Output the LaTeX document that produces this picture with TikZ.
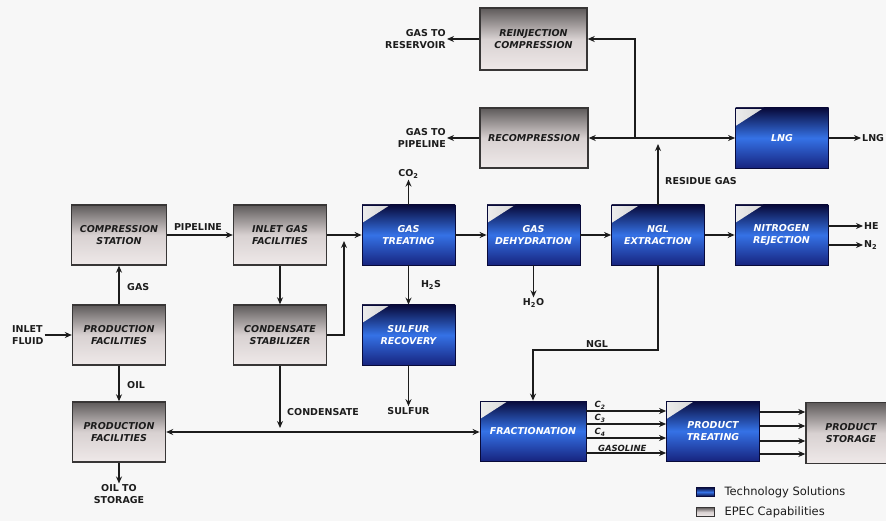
\documentclass[tikz,border=0pt]{standalone}
\usepackage{fontspec}
\setmainfont{DejaVu Sans}
\usetikzlibrary{arrows.meta}
\definecolor{navy}{HTML}{080A3A}
\definecolor{royal}{HTML}{3572E6}
\definecolor{deepblue}{HTML}{17247F}
\definecolor{steel}{HTML}{5E5A5A}
\definecolor{mist}{HTML}{D8D1D1}
\definecolor{blush}{HTML}{EFE9E9}
\definecolor{edge}{HTML}{383636}
\definecolor{ink}{HTML}{1C1C1C}
\definecolor{paper}{HTML}{F7F7F7}

\begin{document}
\begin{tikzpicture}[x=1pt,y=-1pt,
  epec/.style={draw=edge, line width=1.4pt, top color=steel, bottom color=blush, middle color=mist,
               minimum width=93pt, minimum height=60pt, inner sep=0pt, align=center,
               text=ink, font=\fontsize{9.5}{12}\selectfont\bfseries\itshape},
  tech/.style={draw=navy, line width=0.8pt, top color=navy, bottom color=deepblue, middle color=royal,
               minimum width=93pt, minimum height=60pt, inner sep=0pt, align=center,
               text=white, font=\fontsize{9.5}{12}\selectfont\bfseries\itshape,
               path picture={\shade[left color=white!85!gray, right color=gray!70]
                 (path picture bounding box.north west) -- ++(28pt,0pt) -- ++(-28pt,-18pt) -- cycle;}},
  techsw/.style={draw=navy, top color=navy, bottom color=navy, middle color=royal,
                 minimum width=18pt, minimum height=9pt, inner sep=0pt},
  epecsw/.style={draw=edge, line width=1pt, top color=steel, bottom color=blush, middle color=mist,
                 minimum width=18pt, minimum height=9pt, inner sep=0pt},
  lab/.style={font=\fontsize{9.5}{11.5}\selectfont\bfseries, text=ink, inner sep=1pt},
  flow/.style={line width=1.6pt, draw=ink, -{Stealth[length=7pt,width=6pt]}},
  both/.style={flow, {Stealth[length=7pt,width=6pt]}-{Stealth[length=7pt,width=6pt]}}
]
  \fill[paper] (0,0) rectangle (886,521);
  \useasboundingbox (0,0) rectangle (886,521);

  % process blocks
  \node[epec, minimum width=107pt, minimum height=62pt] (reinj) at (533.5,39) {REINJECTION\\COMPRESSION};
  \node[epec, minimum width=108pt] (recomp) at (534,138) {RECOMPRESSION};
  \node[tech] (lng) at (782,138) {LNG};
  \node[epec, minimum width=95pt] (comp) at (119,235) {COMPRESSION\\STATION};
  \node[epec] (inlet) at (280,235) {INLET GAS\\FACILITIES};
  \node[tech] (treat) at (408.5,235) {GAS\\TREATING};
  \node[tech] (dehy) at (533.5,235) {GAS\\DEHYDRATION};
  \node[tech] (ngl) at (658,235) {NGL\\EXTRACTION};
  \node[tech] (nrej) at (781.5,235) {NITROGEN\\REJECTION};
  \node[epec] (prodA) at (119,335) {PRODUCTION\\FACILITIES};
  \node[epec] (cond) at (280,335) {CONDENSATE\\STABILIZER};
  \node[tech] (sulf) at (408.5,335) {SULFUR\\RECOVERY};
  \node[epec] (prodB) at (119,432) {PRODUCTION\\FACILITIES};
  \node[tech, minimum width=106pt] (frac) at (533,431) {FRACTIONATION};
  \node[tech] (ptreat) at (713,431) {PRODUCT\\TREATING};
  \node[epec, minimum width=90pt, minimum height=61pt] (store) at (851,433) {PRODUCT\\STORAGE};

  % stream labels
  \node[lab, align=left, anchor=west] (fluid) at (11,335) {INLET\\FLUID};
  \node[lab, anchor=west] (gas) at (126,287) {GAS};
  \node[lab, anchor=west] (oil) at (126,385) {OIL};
  \node[lab, align=center] (oilst) at (119,494) {OIL TO\\STORAGE};
  \node[lab] (pipe) at (198,227) {PIPELINE};
  \node[lab] (co2) at (408.5,174) {CO\textsubscript{2}};
  \node[lab] (h2s) at (431,285) {H\textsubscript{2}S};
  \node[lab] (sulfur) at (408.5,411) {SULFUR};
  \node[lab] (h2o) at (533.5,303) {H\textsubscript{2}O};
  \node[lab, anchor=west] (conden) at (286,412) {CONDENSATE};
  \node[lab, anchor=west] (resid) at (664,181) {RESIDUE GAS};
  \node[lab] (ngll) at (597,344) {NGL};
  \node[lab, align=right, anchor=east] (gtr) at (447,39) {GAS TO\\RESERVOIR};
  \node[lab, align=right, anchor=east] (gtp) at (447,138) {GAS TO\\PIPELINE};
  \node[lab, anchor=west] (lngl) at (861,138) {LNG};
  \node[lab, anchor=west] (he) at (863,226) {HE};
  \node[lab, anchor=west] (n2) at (863,245) {N\textsubscript{2}};

  \coordinate (cup) at (344,241);
  \coordinate (cdrop) at (280,428);
  \coordinate (split) at (635,138);
  \coordinate (rtip) at (658,144);
  \coordinate (nglbend) at (658,350);

  % upstream
  \draw[flow] (fluid) -- (prodA);
  \draw[flow] (prodA) -- (comp);
  \draw[flow] (prodA) -- (prodB);
  \draw[flow] (prodB) -- (oilst);
  \draw[flow] (comp) -- (inlet);
  \draw[flow] (inlet) -- (treat);
  \draw[flow] (inlet) -- (cond);
  \draw[flow] (cond) -| (cup);
  \draw[flow] (cond) -- (cdrop);
  \draw[both] (prodB) -- (prodB -| frac.west);

  % gas train
  \draw[flow] (treat) -- (co2);
  \draw[flow] (treat) -- (sulf);
  \draw[flow] (sulf) -- (sulfur);
  \draw[flow] (treat) -- (dehy);
  \draw[flow] (dehy) -- (h2o);
  \draw[flow] (dehy) -- (ngl);
  \draw[flow] (ngl) -- (nrej);
  \draw[flow] (nrej.east |- he) -- (he);
  \draw[flow] (nrej.east |- n2) -- (n2);

  % residue gas
  \draw[flow] (ngl) -- (rtip);
  \draw[flow] (split) -- (recomp);
  \draw[flow] (split) -- (lng);
  \draw[flow] (split) |- (reinj);
  \draw[flow] (recomp) -- (gtp);
  \draw[flow] (reinj) -- (gtr);
  \draw[flow] (lng) -- (lngl);

  % liquids
  \draw[flow] (ngl) -- (nglbend) -| (frac);
  \foreach \y/\t/\p in {411/C\textsubscript{2}/0.17, 424/C\textsubscript{3}/0.17,
                        438/C\textsubscript{4}/0.17, 453/GASOLINE/0.45}
    \draw[flow] (frac.east |- 0,\y) -- node[lab, pos=\p, above, font=\fontsize{8.5}{10}\selectfont\bfseries\itshape] (fl\y) {\t} (ptreat.west |- 0,\y);
  \foreach \y in {412,426,441,454}
    \draw[flow] (ptreat.east |- 0,\y) -- (store.west |- 0,\y);

  % legend
  \node[techsw] (techsw) at (705,492) {};
  \node[anchor=west, font=\fontsize{11.5}{13}\selectfont, text=ink] (techl) at (721,492) {Technology Solutions};
  \node[epecsw] (epecsw) at (705,512) {};
  \node[anchor=west, font=\fontsize{11.5}{13}\selectfont, text=ink] (epecl) at (721,512) {EPEC Capabilities};
\end{tikzpicture}
\end{document}
